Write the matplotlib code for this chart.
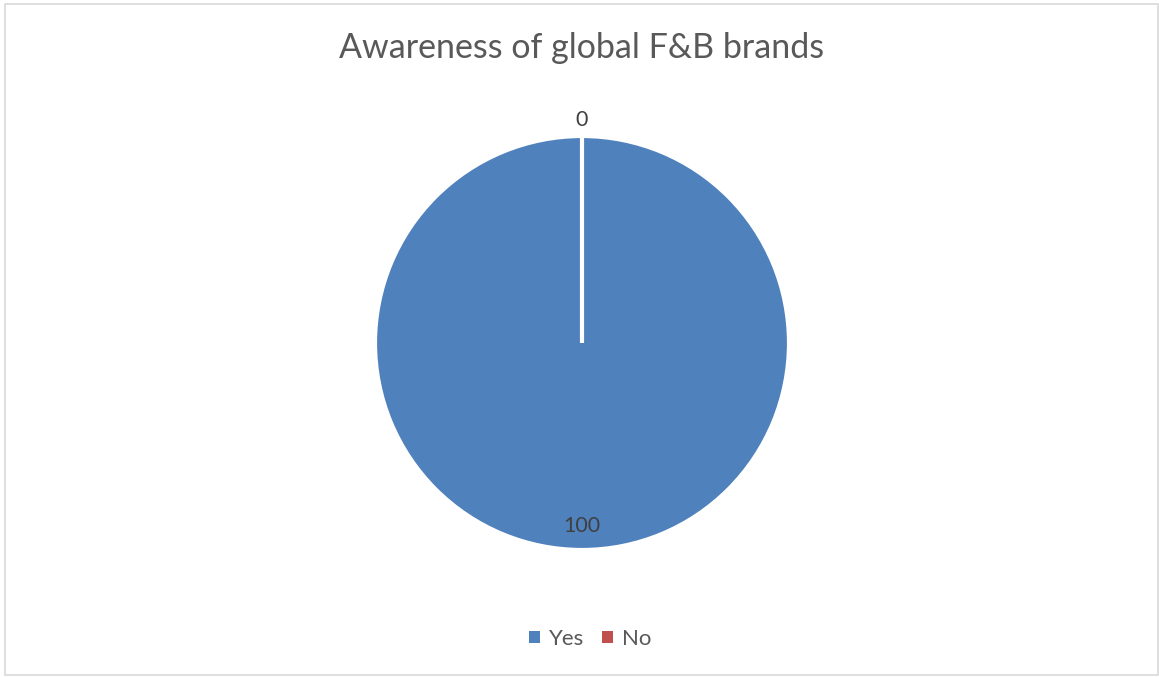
import matplotlib.pyplot as plt
from matplotlib.patches import Rectangle
import numpy as np

categories = ["Yes", "No"]
values = [100, 0]
colors = ["#4F81BD", "#C0504D"]
title = "Awareness of global F&B brands"

plt.rcParams['font.family'] = ['Lato', 'DejaVu Sans']
W, H = 1159, 677
fig = plt.figure(figsize=(W / 100, H / 100), dpi=100)
fig.patch.set_facecolor("white")

# chart border
fig.add_artist(Rectangle((5 / W, 2 / H), 1153 / W, 671 / H, transform=fig.transFigure,
                         fill=False, edgecolor="#D9D9D9", linewidth=1.2))

cx, cy, r = 582, 343, 207
ax = fig.add_axes([(cx - r) / W, (H - cy - r) / H, 2 * r / W, 2 * r / H])
wedges, _ = ax.pie(values, colors=colors, startangle=90, counterclock=False,
                   radius=1.0, wedgeprops=dict(edgecolor="white", linewidth=3))
ax.set_xlim(-1, 1)
ax.set_ylim(-1, 1)
ax.set_aspect("equal")
ax.axis("off")

dists = [0.885, 1.075]
for w, v, d in zip(wedges, values, dists):
    ang = np.deg2rad((w.theta1 + w.theta2) / 2)
    ax.text(d * np.cos(ang), d * np.sin(ang), f"{v}", ha="center", va="center",
            fontsize=15.5, color="#404040", clip_on=False)

fig.text(cx / W, 1 - 48 / H, title, ha="center", va="center", fontsize=24.5, color="#595959")

handles = [Rectangle((0, 0), 1, 1, facecolor=c, edgecolor="none") for c in colors]
fig.legend(handles, categories, loc="center", bbox_to_anchor=(590 / W, 1 - 639 / H),
           ncol=2, frameon=False, fontsize=16, labelcolor="#595959",
           handlelength=0.5, handleheight=0.5, handletextpad=0.4, columnspacing=0.8)

fig.savefig("out.png", dpi=100)
